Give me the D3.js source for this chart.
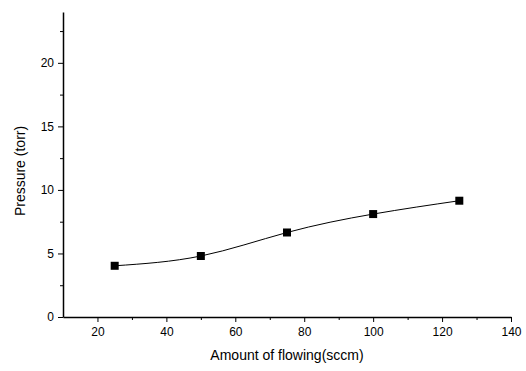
<!DOCTYPE html>
<html>
<head>
<meta charset="utf-8">
<script src="https://cdn.jsdelivr.net/npm/d3@7"></script>
<style>
  body { margin: 0; background: #fff; }
  svg { display: block; font-family: "Liberation Sans", Arial, sans-serif; }
  .axis path, .axis line { stroke: #000; }
  .axis text { font-size: 12px; fill: #000; }
</style>
</head>
<body>
<svg id="chart"></svg>
<script>
// 数据
const flowRates = [25, 50, 75, 100, 125];
const pressures = [4.03, 4.8, 6.65, 8.1, 9.15];
const xTicks = [20, 40, 60, 80, 100, 120, 140];
const yTicks = [0, 5, 10, 15, 20];

const W = 526, H = 371;
const margin = { top: 12, right: 15, bottom: 54, left: 63 };
const width = W - margin.left - margin.right;
const height = H - margin.top - margin.bottom;

const svg = d3.select("#chart").attr("width", W).attr("height", H);
const g = svg.append("g").attr("transform", `translate(${margin.left},${margin.top})`);

const x = d3.scaleLinear().domain([10, 140]).range([0, 448]);
const y = d3.scaleLinear().domain([0, 24]).range([height, 0]);

// 次刻度
g.append("g")
  .attr("class", "axis")
  .attr("transform", `translate(0,${height})`)
  .call(d3.axisBottom(x).tickValues([30, 50, 70, 90, 110, 130]).tickSize(3).tickFormat(""))
  .call((s) => s.select(".domain").remove());

g.append("g")
  .attr("class", "axis")
  .call(d3.axisLeft(y).tickValues([2.5, 7.5, 12.5, 17.5, 22.5]).tickSize(3).tickFormat(""))
  .call((s) => s.select(".domain").remove());

// 主坐标轴
g.append("g")
  .attr("class", "axis")
  .attr("transform", `translate(0,${height})`)
  .call(d3.axisBottom(x).tickValues(xTicks).tickSize(5).tickSizeOuter(0).tickPadding(5));

g.append("g")
  .attr("class", "axis")
  .call(d3.axisLeft(y).tickValues(yTicks).tickSize(5).tickSizeOuter(0).tickPadding(4));

g.selectAll(".domain").attr("stroke-width", 1.5);

// 轴标题
svg.append("text")
  .attr("x", margin.left + 224)
  .attr("y", 360)
  .attr("text-anchor", "middle")
  .style("font-size", "14px")
  .text("Amount of flowing(sccm)");

svg.append("text")
  .attr("transform", "rotate(-90)")
  .attr("x", -171)
  .attr("y", 25)
  .attr("text-anchor", "middle")
  .style("font-size", "14px")
  .text("Pressure (torr)");

// 曲线
const pts = flowRates.map((f, i) => ({ f, p: pressures[i] }));
const line = d3.line()
  .x((d) => x(d.f))
  .y((d) => y(d.p))
  .curve(d3.curveNatural);

g.append("path")
  .datum(pts)
  .attr("fill", "none")
  .attr("stroke", "#000")
  .attr("stroke-width", 1)
  .attr("d", line);

g.selectAll(".pt")
  .data(pts)
  .enter()
  .append("rect")
  .attr("class", "pt")
  .attr("x", (d) => x(d.f) - 4)
  .attr("y", (d) => y(d.p) - 4)
  .attr("width", 8)
  .attr("height", 8)
  .attr("fill", "#000");
</script>
</body>
</html>
